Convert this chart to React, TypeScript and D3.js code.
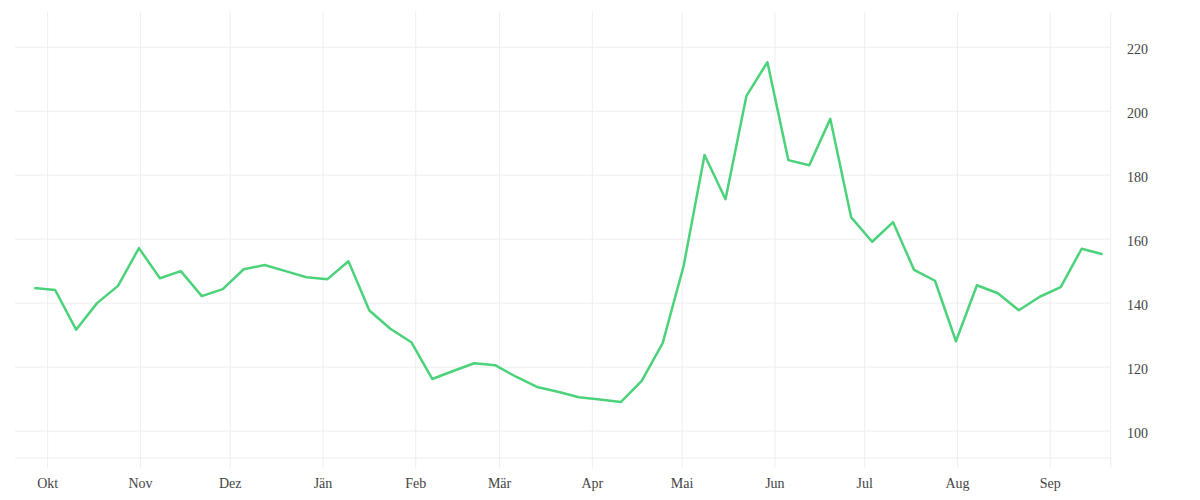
import React from "react";
import * as d3 from "d3";

const startDate = new Date(2020, 8, 26, 12);
const values: number[] = [
  144.7, 144.1, 131.7, 140.0, 145.4, 157.2, 147.8, 150.0, 142.2, 144.4,
  150.6, 151.9, 150.0, 148.1, 147.5, 153.1, 137.7, 132.0, 127.8, 116.3,
  118.8, 121.2, 120.6, 117.0, 113.8, 112.3, 110.6, 109.9, 109.1, 115.7,
  127.5, 151.6, 186.3, 172.5, 204.8, 215.3, 184.7, 183.1, 197.6, 166.8,
  159.2, 165.3, 150.4, 147.0, 128.1, 145.6, 143.1, 137.8, 142.0, 145.0,
  157.0, 155.3,
];
const monthLabels = ["Okt", "Nov", "Dez", "Jän", "Feb", "Mär", "Apr", "Mai", "Jun", "Jul", "Aug", "Sep"];
const yTicks = [100, 120, 140, 160, 180, 200, 220];

const W = 1200;
const H = 500;
const left = 15;
const right = 1110.7;
const top = 12;
const bottom = 458;

export default function App() {
  const data = values.map((v, i) => ({ date: d3.timeDay.offset(startDate, 7 * i), value: v }));
  const x = d3
    .scaleTime()
    .domain([new Date(2020, 8, 20, 2), new Date(2021, 8, 21, 5)])
    .range([left, right]);
  const y = d3.scaleLinear().domain([91.6, 231]).range([bottom, top]);
  const months = d3.timeMonth.range(new Date(2020, 9, 1), new Date(2021, 9, 1));
  const line = d3
    .line<{ date: Date; value: number }>()
    .x((d) => x(d.date))
    .y((d) => y(d.value));
  const font = "'Liberation Serif', serif";
  return (
    <svg width={W} height={H} style={{ position: "absolute", left: 0, top: 0, background: "#fff" }}>
      <g>
        {yTicks.map((t) => (
          <line key={"h" + t} x1={left} x2={right} y1={y(t)} y2={y(t)} stroke="#eeeeee" strokeWidth={1} />
        ))}
        <line x1={left} x2={right} y1={bottom} y2={bottom} stroke="#eeeeee" strokeWidth={1} />
        {months.map((m, i) => (
          <line key={"v" + i} x1={x(m)} x2={x(m)} y1={top} y2={468} stroke="#eeeeee" strokeWidth={1} />
        ))}
        <line x1={right} x2={right} y1={top} y2={468} stroke="#eeeeee" strokeWidth={1} />
      </g>
      <path d={line(data) ?? ""} fill="none" stroke="#4bd27a" strokeWidth={2.5} strokeLinejoin="round" />
      <g fontFamily={font} fontSize={14} fill="#444">
        {months.map((m, i) => (
          <text key={"ml" + i} x={x(m)} y={487.7} textAnchor="middle">
            {monthLabels[i]}
          </text>
        ))}
        {yTicks.map((t) => (
          <text key={"yl" + t} x={1127} y={y(t) + 6.7}>
            {t}
          </text>
        ))}
      </g>
    </svg>
  );
}
